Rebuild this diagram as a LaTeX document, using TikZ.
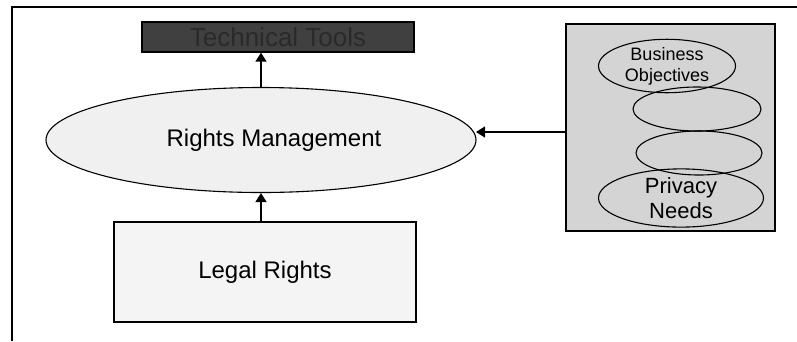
\documentclass[tikz,border=0pt]{standalone}
\usepackage{fontspec}
\setmainfont{Liberation Sans}
\usetikzlibrary{shapes.geometric,arrows.meta}
\definecolor{toolgray}{HTML}{404040}
\definecolor{toolfont}{HTML}{2A2A2A}
\definecolor{panelgray}{HTML}{D4D4D4}
\definecolor{rmgray}{HTML}{F0F0F0}
\definecolor{legalgray}{HTML}{F4F4F4}
\begin{document}
\begin{tikzpicture}[x=1pt,y=-1pt,
        arrow/.style = {line width=1.4pt,-{Triangle[length=9pt,width=11pt]}},
        frame/.style = {draw,line width=1.3pt},
        oval/.style = {draw,ellipse,inner sep=0pt,line width=1.1pt}]
    \useasboundingbox (0,0) rectangle (797,341);
    \draw[line width=1.3pt] (12,341) -- (12,7) -- (797,7);

    \node[frame,fill=toolgray,text=toolfont,minimum width=272pt,minimum height=30pt,
        font=\fontsize{26}{26}\selectfont] (tools) at (278,37) {Technical Tools};
    \node[oval,fill=rmgray,minimum width=430pt,minimum height=105pt,
        font=\fontsize{24}{24}\selectfont] (rights) at (261,140) {\hspace*{26pt}Rights Management};
    \node[frame,fill=legalgray,minimum width=302pt,minimum height=100pt,
        font=\fontsize{24}{24}\selectfont] (legal) at (265,272) {Legal Rights};

    \node[frame,fill=panelgray,minimum width=209pt,minimum height=207pt] (panel) at (670.5,127.5) {};
    \node[oval,minimum width=137pt,minimum height=46pt,align=center,
        font=\fontsize{18}{21}\selectfont] (business) at (667,66) {Business\\Objectives};
    \node[oval,minimum width=128pt,minimum height=44pt] (goal2) at (697,109) {};
    \node[oval,minimum width=126pt,minimum height=44pt] (goal3) at (699,153) {};
    \node[oval,minimum width=165pt,minimum height=50pt,align=center,
        font=\fontsize{22}{25}\selectfont] (privacy) at (681,198) {Privacy\\Needs};

    \draw[arrow] (rights.north) -- (rights.north |- tools.south);
    \draw[arrow] (legal.north -| rights.south) -- (rights.south);
    \draw[arrow] (panel.west |- 0,132) -- (476,132);
\end{tikzpicture}
\end{document}
